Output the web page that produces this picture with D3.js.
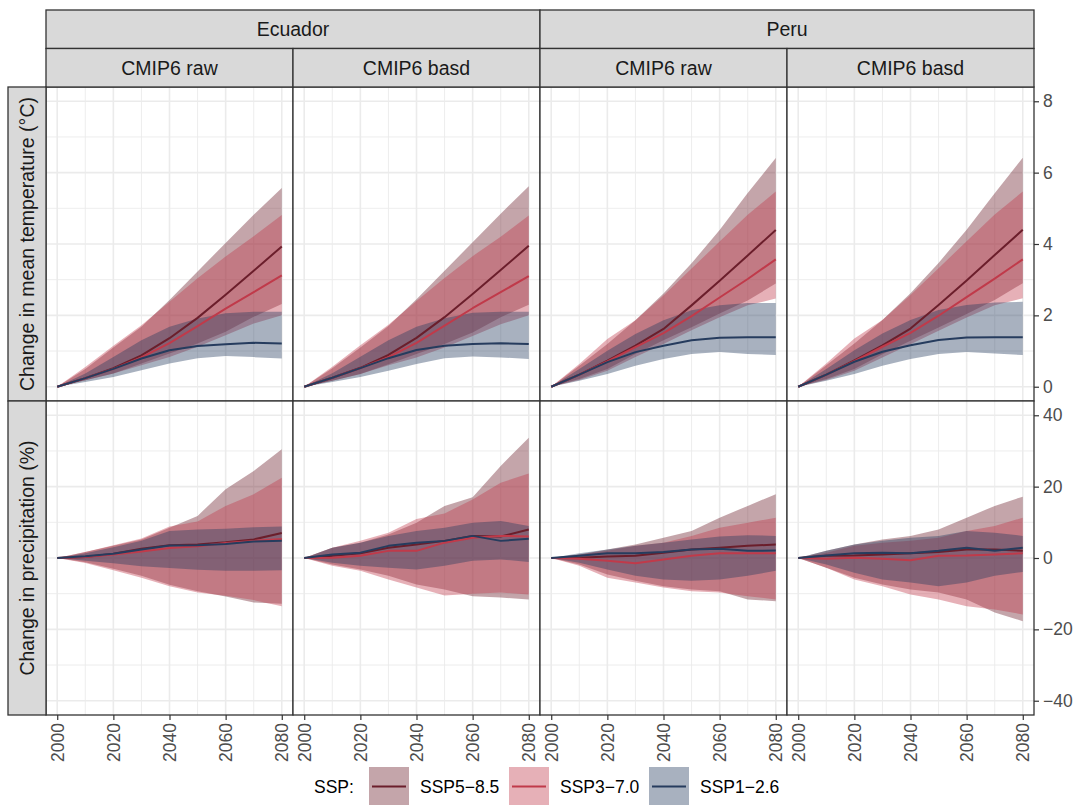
<!DOCTYPE html>
<html>
<head>
<meta charset="utf-8">
<script src="https://cdn.jsdelivr.net/npm/d3@7"></script>
<style>
  body { margin: 0; background: #fff; }
  svg { font-family: "Liberation Sans", Arial, Helvetica, sans-serif; }
</style>
</head>
<body>
<svg id="chart" width="1081" height="805"></svg>
<script>
// ---- data (decadal steps) ----
var years = [2000, 2010, 2020, 2030, 2040, 2050, 2060, 2070, 2080];
var scenarios = ["SSP5\u22128.5", "SSP3\u22127.0", "SSP1\u22122.6"];
var countries = ["Ecuador", "Peru"];
var sources = ["CMIP6 raw", "CMIP6 basd"];
var rowLabels = ["Change in mean temperature (\u00b0C)", "Change in precipitation (%)"];
var yearTicks = [2000, 2020, 2040, 2060, 2080];
var tempTicks = [0, 2, 4, 6, 8];
var precTicks = [-40, -20, 0, 20, 40];

// temperature, each key: scenario + mid / lo / hi
var ecRawTemp = {
  s585mid: [0, 0.24, 0.52, 0.88, 1.36, 1.93, 2.58, 3.25, 3.93],
  s585lo:  [0, 0.18, 0.37, 0.65, 0.93, 1.21, 1.54, 1.96, 2.32],
  s585hi:  [0, 0.50, 1.10, 1.68, 2.43, 3.23, 4.03, 4.82, 5.57],
  s370mid: [0, 0.24, 0.50, 0.82, 1.22, 1.70, 2.19, 2.65, 3.12],
  s370lo:  [0, 0.18, 0.37, 0.60, 0.83, 1.12, 1.44, 1.77, 2.00],
  s370hi:  [0, 0.55, 1.15, 1.72, 2.38, 3.04, 3.65, 4.22, 4.81],
  s126mid: [0, 0.24, 0.50, 0.79, 1.02, 1.14, 1.19, 1.23, 1.21],
  s126lo:  [0, 0.13, 0.27, 0.46, 0.65, 0.80, 0.86, 0.83, 0.79],
  s126hi:  [0, 0.37, 0.83, 1.30, 1.68, 1.91, 2.06, 2.10, 2.10]
};
var ecBasdTemp = {
  s585mid: [0, 0.25, 0.53, 0.89, 1.37, 1.95, 2.60, 3.27, 3.95],
  s585lo:  [0, 0.17, 0.36, 0.63, 0.92, 1.20, 1.52, 1.95, 2.30],
  s585hi:  [0, 0.52, 1.10, 1.70, 2.45, 3.25, 4.05, 4.85, 5.62],
  s370mid: [0, 0.25, 0.52, 0.83, 1.23, 1.71, 2.20, 2.65, 3.10],
  s370lo:  [0, 0.17, 0.36, 0.60, 0.82, 1.10, 1.42, 1.75, 2.00],
  s370hi:  [0, 0.56, 1.16, 1.74, 2.40, 3.05, 3.66, 4.20, 4.80],
  s126mid: [0, 0.25, 0.52, 0.80, 1.03, 1.15, 1.20, 1.22, 1.20],
  s126lo:  [0, 0.13, 0.27, 0.45, 0.64, 0.80, 0.85, 0.82, 0.78],
  s126hi:  [0, 0.38, 0.84, 1.30, 1.68, 1.92, 2.07, 2.10, 2.10]
};
var peRawTemp = {
  s585mid: [0, 0.34, 0.73, 1.15, 1.62, 2.28, 2.97, 3.68, 4.39],
  s585lo:  [0, 0.22, 0.50, 0.92, 1.30, 1.67, 2.05, 2.42, 2.89],
  s585hi:  [0, 0.59, 1.20, 1.86, 2.61, 3.46, 4.39, 5.43, 6.41],
  s370mid: [0, 0.34, 0.71, 1.11, 1.50, 1.98, 2.50, 3.02, 3.57],
  s370lo:  [0, 0.19, 0.45, 0.83, 1.20, 1.58, 1.95, 2.28, 2.47],
  s370hi:  [0, 0.64, 1.34, 1.86, 2.56, 3.31, 4.07, 4.82, 5.47],
  s126mid: [0, 0.34, 0.69, 0.97, 1.15, 1.30, 1.37, 1.39, 1.39],
  s126lo:  [0, 0.17, 0.36, 0.59, 0.78, 0.92, 0.97, 0.92, 0.89],
  s126hi:  [0, 0.50, 1.01, 1.48, 1.86, 2.14, 2.28, 2.35, 2.35]
};
var peBasdTemp = {
  s585mid: [0, 0.34, 0.74, 1.16, 1.63, 2.29, 2.98, 3.69, 4.40],
  s585lo:  [0, 0.22, 0.50, 0.91, 1.29, 1.66, 2.04, 2.43, 2.90],
  s585hi:  [0, 0.60, 1.21, 1.87, 2.62, 3.47, 4.40, 5.42, 6.42],
  s370mid: [0, 0.34, 0.72, 1.12, 1.51, 1.99, 2.51, 3.03, 3.57],
  s370lo:  [0, 0.19, 0.45, 0.82, 1.19, 1.57, 1.94, 2.28, 2.48],
  s370hi:  [0, 0.65, 1.35, 1.87, 2.57, 3.32, 4.08, 4.83, 5.47],
  s126mid: [0, 0.34, 0.70, 0.98, 1.16, 1.31, 1.38, 1.39, 1.39],
  s126lo:  [0, 0.17, 0.36, 0.59, 0.78, 0.92, 0.97, 0.93, 0.89],
  s126hi:  [0, 0.50, 1.02, 1.49, 1.87, 2.15, 2.29, 2.36, 2.38]
};

// precipitation
var ecRawPrec = {
  s585mid: [0, 0.3, 1.2, 2.6, 3.6, 3.8, 4.4, 5.2, 7.0],
  s585lo:  [0, -1.2, -3.0, -5.0, -7.5, -9.3, -10.8, -12.5, -12.8],
  s585hi:  [0, 1.7, 3.4, 5.2, 8.5, 11.8, 19.3, 24.4, 30.5],
  s370mid: [0, 0.3, 1.0, 1.8, 2.8, 3.3, 4.2, 4.8, 5.3],
  s370lo:  [0, -1.4, -3.4, -5.5, -7.9, -9.7, -10.6, -11.8, -13.5],
  s370hi:  [0, 1.7, 3.6, 5.5, 8.8, 10.2, 14.6, 17.9, 22.5],
  s126mid: [0, 0.5, 1.2, 2.4, 3.5, 3.6, 3.9, 4.6, 4.8],
  s126lo:  [0, -0.8, -1.5, -2.3, -2.8, -3.3, -3.6, -3.6, -3.4],
  s126hi:  [0, 1.3, 3.0, 4.8, 7.6, 8.0, 8.2, 8.6, 8.8]
};
var ecBasdPrec = {
  s585mid: [0, 0.6, 1.3, 2.9, 3.8, 4.8, 6.2, 6.0, 8.0],
  s585lo:  [0, -1.8, -3.2, -5.0, -7.4, -8.8, -10.7, -11.1, -11.6],
  s585hi:  [0, 2.9, 4.3, 6.6, 9.9, 14.6, 17.0, 25.8, 33.7],
  s370mid: [0, 0.1, 0.6, 2.0, 2.0, 4.3, 5.7, 6.2, 6.0],
  s370lo:  [0, -2.2, -3.6, -6.0, -8.3, -10.5, -10.0, -9.7, -10.2],
  s370hi:  [0, 2.9, 4.8, 7.1, 10.9, 12.5, 16.4, 21.1, 23.7],
  s126mid: [0, 1.0, 1.5, 3.4, 4.3, 4.8, 6.2, 4.8, 5.4],
  s126lo:  [0, -1.3, -2.2, -2.7, -3.2, -2.2, -0.8, -0.4, -1.1],
  s126hi:  [0, 2.9, 4.3, 6.2, 7.6, 8.5, 9.9, 10.4, 9.0]
};
var peRawPrec = {
  s585mid: [0, 0.1, 0.4, 0.6, 1.5, 2.4, 2.9, 3.4, 3.8],
  s585lo:  [0, -1.8, -4.6, -6.4, -7.9, -8.8, -9.3, -11.6, -12.1],
  s585hi:  [0, 1.0, 2.4, 3.8, 5.7, 7.6, 11.3, 14.6, 17.9],
  s370mid: [0, -0.2, -0.8, -1.5, -0.4, 0.6, 1.3, 1.3, 1.3],
  s370lo:  [0, -2.2, -5.5, -6.9, -8.3, -9.3, -9.7, -10.7, -11.6],
  s370hi:  [0, 1.0, 2.0, 3.4, 4.3, 6.2, 8.5, 9.9, 11.3],
  s126mid: [0, 0.6, 1.3, 1.3, 1.7, 2.4, 2.6, 2.0, 2.1],
  s126lo:  [0, -1.3, -3.2, -5.0, -6.0, -6.4, -6.0, -5.0, -3.6],
  s126hi:  [0, 1.3, 2.4, 3.4, 4.3, 5.2, 6.0, 6.4, 6.2]
};
var peBasdPrec = {
  s585mid: [0, 0.6, 0.7, 1.0, 1.3, 1.7, 2.4, 2.4, 2.0],
  s585lo:  [0, -2.7, -5.5, -7.4, -8.8, -9.7, -11.6, -15.3, -17.7],
  s585hi:  [0, 2.0, 3.8, 5.2, 6.2, 8.0, 11.3, 14.6, 17.2],
  s370mid: [0, -0.2, 0.1, -0.2, -0.6, 0.6, 0.7, 1.0, 1.3],
  s370lo:  [0, -2.7, -6.0, -7.9, -10.2, -11.6, -13.5, -14.4, -15.8],
  s370hi:  [0, 1.5, 3.4, 4.3, 4.8, 5.7, 7.6, 9.0, 11.3],
  s126mid: [0, 0.7, 1.3, 1.5, 1.3, 2.0, 2.9, 2.0, 2.9],
  s126lo:  [0, -1.8, -4.1, -6.0, -6.9, -7.9, -6.9, -5.0, -3.9],
  s126hi:  [0, 2.0, 3.8, 4.8, 5.7, 6.2, 7.6, 7.1, 6.2]
};

// panel order: rows (temp, prec) x cols (Ecuador raw, Ecuador basd, Peru raw, Peru basd)
var panels = [
  [ecRawTemp, ecBasdTemp, peRawTemp, peBasdTemp],
  [ecRawPrec, ecBasdPrec, peRawPrec, peBasdPrec]
];
var keys = ["s585", "s370", "s126"];

// ---- styling ----
var lineColors = ["#6b1e2b", "#c03a4a", "#263c5e"];
var fillAlpha = 0.4;
var frame = "#333333";
var gridCol = "#ebebeb";
var tickText = "#4d4d4d";

var svg = d3.select("#chart");
var padL = 46, padR = 1034, padT = 87, padB = 715;
var pw = (padR - padL) / 4, ph = (padB - padT) / 2;

var x = d3.scaleLinear().domain([1996, 2084]).range([0, pw]);
var yScales = [
  d3.scaleLinear().domain([-0.4, 8.4]).range([ph, 0]),
  d3.scaleLinear().domain([-44, 44]).range([ph, 0])
];
var yTicks = [tempTicks, precTicks];
var yMinor = [[1, 3, 5, 7], [-30, -10, 10, 30]];
var xMinor = [2010, 2030, 2050, 2070];

svg.append("rect").attr("width", 1081).attr("height", 805).attr("fill", "#fff");

function drawPanel(r, c) {
  var y = yScales[r];
  var d = panels[r][c];
  var g = svg.append("g")
    .attr("transform", "translate(" + (padL + c * pw) + "," + (padT + r * ph) + ")");

  g.append("rect").attr("width", pw).attr("height", ph).attr("fill", "#fff");

  // grid
  g.selectAll(".gx-minor").data(xMinor).enter().append("line")
    .attr("x1", x).attr("x2", x).attr("y1", 0).attr("y2", ph)
    .attr("stroke", gridCol).attr("stroke-width", 0.9);
  g.selectAll(".gy-minor").data(yMinor[r]).enter().append("line")
    .attr("x1", 0).attr("x2", pw).attr("y1", y).attr("y2", y)
    .attr("stroke", gridCol).attr("stroke-width", 0.9);
  g.selectAll(".gx-major").data(yearTicks).enter().append("line")
    .attr("x1", x).attr("x2", x).attr("y1", 0).attr("y2", ph)
    .attr("stroke", gridCol).attr("stroke-width", 1.6);
  g.selectAll(".gy-major").data(yTicks[r]).enter().append("line")
    .attr("x1", 0).attr("x2", pw).attr("y1", y).attr("y2", y)
    .attr("stroke", gridCol).attr("stroke-width", 1.6);

  // ribbons
  keys.forEach(function(k, i) {
    var area = d3.area()
      .x(function(v, j) { return x(years[j]); })
      .y0(function(v, j) { return y(d[k + "lo"][j]); })
      .y1(function(v, j) { return y(d[k + "hi"][j]); });
    g.append("path").datum(years).attr("d", area)
      .attr("fill", lineColors[i]).attr("fill-opacity", fillAlpha);
  });
  // medians
  keys.forEach(function(k, i) {
    var line = d3.line()
      .x(function(v, j) { return x(years[j]); })
      .y(function(v) { return y(v); });
    g.append("path").datum(d[k + "mid"]).attr("d", line)
      .attr("fill", "none").attr("stroke", lineColors[i])
      .attr("stroke-width", 2).attr("stroke-linejoin", "round");
  });

  g.append("rect").attr("width", pw).attr("height", ph)
    .attr("fill", "none").attr("stroke", frame).attr("stroke-width", 1.3);

  // bottom axis
  if (r == 1) {
    var ax = g.append("g").attr("transform", "translate(0," + ph + ")")
      .call(d3.axisBottom(x).tickValues(yearTicks).tickFormat(d3.format("d")).tickSize(5));
    ax.select(".domain").remove();
    ax.selectAll("line").attr("stroke", frame).attr("stroke-width", 1.2);
    ax.selectAll("text")
      .attr("transform", "rotate(-90)")
      .attr("x", -8).attr("y", 0).attr("dy", "0.35em")
      .attr("text-anchor", "end")
      .attr("fill", tickText)
      .style("font-size", "17.5px")
      .style("font-family", "Liberation Sans, Arial, sans-serif");
  }
  // right axis
  if (c == 3) {
    var ay = g.append("g").attr("transform", "translate(" + pw + ",0)")
      .call(d3.axisRight(y).tickValues(yTicks[r]).tickSize(5).tickPadding(4));
    ay.select(".domain").remove();
    ay.selectAll("line").attr("stroke", frame).attr("stroke-width", 1.2);
    ay.selectAll("text").attr("fill", tickText)
      .style("font-size", "17.5px")
      .style("font-family", "Liberation Sans, Arial, sans-serif");
  }
}

for (var r = 0; r < 2; r++) {
  for (var c = 0; c < 4; c++) drawPanel(r, c);
}

// strips on top
var stripFill = "#d9d9d9";
countries.forEach(function(name, i) {
  svg.append("rect").attr("x", padL + i * 2 * pw).attr("y", 10)
    .attr("width", 2 * pw).attr("height", 38.5)
    .attr("fill", stripFill).attr("stroke", frame).attr("stroke-width", 1.3);
  svg.append("text").attr("x", padL + i * 2 * pw + pw).attr("y", 29.5)
    .attr("text-anchor", "middle").attr("dy", "0.35em")
    .attr("fill", "#1a1a1a").style("font-size", "19.5px").text(name);
  sources.forEach(function(s, j) {
    var sx = padL + (i * 2 + j) * pw;
    svg.append("rect").attr("x", sx).attr("y", 48.5)
      .attr("width", pw).attr("height", 38.5)
      .attr("fill", stripFill).attr("stroke", frame).attr("stroke-width", 1.3);
    svg.append("text").attr("x", sx + pw / 2).attr("y", 68)
      .attr("text-anchor", "middle").attr("dy", "0.35em")
      .attr("fill", "#1a1a1a").style("font-size", "19.5px").text(s);
  });
});

// strips on left
rowLabels.forEach(function(name, i) {
  svg.append("rect").attr("x", 8).attr("y", padT + i * ph)
    .attr("width", 38).attr("height", ph)
    .attr("fill", stripFill).attr("stroke", frame).attr("stroke-width", 1.3);
  svg.append("text")
    .attr("transform", "translate(27," + (padT + i * ph + ph / 2) + ") rotate(-90)")
    .attr("text-anchor", "middle").attr("dy", "0.35em")
    .attr("fill", "#1a1a1a").style("font-size", "19.5px").text(name);
});

// legend
var leg = svg.append("g");
leg.append("text").attr("x", 314).attr("y", 787).attr("dy", "0.35em")
  .attr("fill", "#000").style("font-size", "17.5px").text("SSP:");
var keyX = [369, 509, 649];
scenarios.forEach(function(s, i) {
  leg.append("rect").attr("x", keyX[i]).attr("y", 767)
    .attr("width", 40).attr("height", 38)
    .attr("fill", lineColors[i]).attr("fill-opacity", fillAlpha);
  leg.append("line").attr("x1", keyX[i] + 3).attr("x2", keyX[i] + 37)
    .attr("y1", 786.5).attr("y2", 786.5)
    .attr("stroke", lineColors[i]).attr("stroke-width", 2);
  leg.append("text").attr("x", keyX[i] + 51).attr("y", 787).attr("dy", "0.35em")
    .attr("fill", "#000").style("font-size", "17.5px").text(s);
});
</script>
</body>
</html>
